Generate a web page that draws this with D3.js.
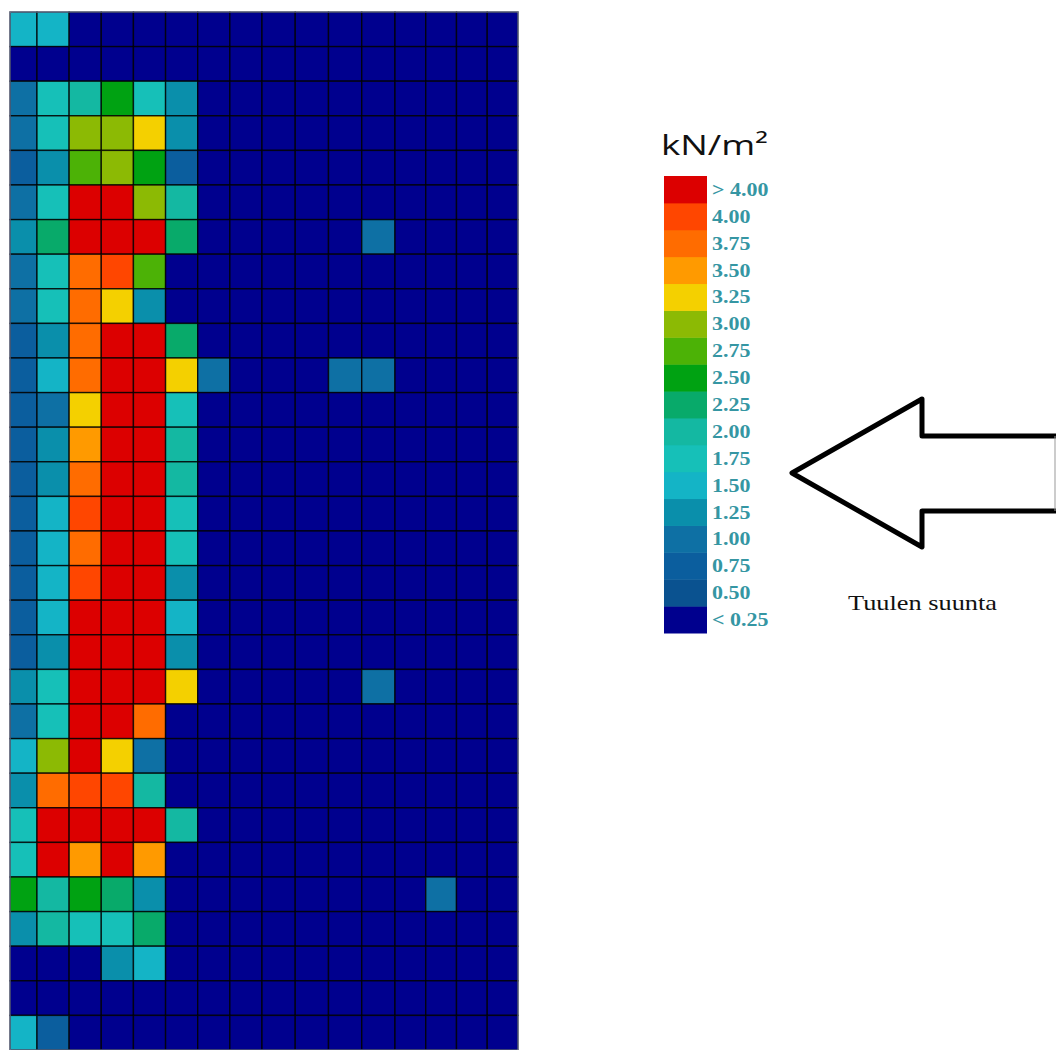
<!DOCTYPE html>
<html>
<head>
<meta charset="utf-8">
<script src="https://cdn.jsdelivr.net/npm/d3@7"></script>
<style>
  body { margin: 0; background: #fff; }
  svg { display: block; }
</style>
</head>
<body>
<svg id="chart" width="1057" height="1050"></svg>
<script>
// class limits (kN/m2) and the colour of each class, low to high
var thresholds = [0.25, 0.5, 0.75, 1.0, 1.25, 1.5, 1.75, 2.0, 2.25, 2.5, 2.75, 3.0, 3.25, 3.5, 3.75, 4.0];
var levelColors = ["#00008e", "#0a5290", "#0b5e9e", "#0e70a4", "#0a8fab", "#14b4c6", "#16c0b8", "#14b8a2",
                   "#08aa6a", "#00a212", "#4cb206", "#8cba04", "#f4d000", "#ff9a00", "#ff6c00", "#ff4600", "#dc0000"];
var legendLabels = ["< 0.25", "0.50", "0.75", "1.00", "1.25", "1.50", "1.75", "2.00", "2.25",
                    "2.50", "2.75", "3.00", "3.25", "3.50", "3.75", "4.00", "> 4.00"];

// wind pressure per panel, 30 rows (top to bottom) x 16 columns (left to right)
var pressure = [
  [1.4, 1.3, 0, 0, 0, 0, 0, 0, 0, 0, 0, 0, 0, 0, 0, 0],
  [0, 0, 0, 0, 0, 0, 0, 0, 0, 0, 0, 0, 0, 0, 0, 0],
  [0.9, 1.6, 1.9, 2.4, 1.6, 1.1, 0, 0, 0, 0, 0, 0, 0, 0, 0, 0],
  [0.9, 1.6, 2.9, 2.8, 3.1, 1.1, 0, 0, 0, 0, 0, 0, 0, 0, 0, 0],
  [0.7, 1.2, 2.6, 2.8, 2.4, 0.6, 0, 0, 0, 0, 0, 0, 0, 0, 0, 0],
  [0.9, 1.6, 4.4, 4.3, 2.8, 1.9, 0, 0, 0, 0, 0, 0, 0, 0, 0, 0],
  [1.1, 2.1, 4.6, 4.8, 4.2, 2.1, 0, 0, 0, 0, 0, 0.9, 0, 0, 0, 0],
  [0.9, 1.6, 3.6, 3.9, 2.6, 0, 0, 0, 0, 0, 0, 0, 0, 0, 0, 0],
  [0.9, 1.6, 3.6, 3.2, 1.2, 0, 0, 0, 0, 0, 0, 0, 0, 0, 0, 0],
  [0.7, 1.1, 3.7, 4.5, 4.6, 2.1, 0, 0, 0, 0, 0, 0, 0, 0, 0, 0],
  [0.7, 1.4, 3.6, 4.8, 4.7, 3.1, 0.9, 0, 0, 0, 0.8, 0.9, 0, 0, 0, 0],
  [0.7, 0.9, 3.2, 5.0, 4.9, 1.6, 0, 0, 0, 0, 0, 0, 0, 0, 0, 0],
  [0.6, 1.1, 3.4, 5.1, 4.8, 1.8, 0, 0, 0, 0, 0, 0, 0, 0, 0, 0],
  [0.6, 1.1, 3.6, 5.2, 4.9, 1.8, 0, 0, 0, 0, 0, 0, 0, 0, 0, 0],
  [0.6, 1.4, 3.9, 5.3, 5.0, 1.5, 0, 0, 0, 0, 0, 0, 0, 0, 0, 0],
  [0.6, 1.3, 3.7, 5.3, 5.0, 1.5, 0, 0, 0, 0, 0, 0, 0, 0, 0, 0],
  [0.6, 1.3, 3.9, 5.2, 4.9, 1.2, 0, 0, 0, 0, 0, 0, 0, 0, 0, 0],
  [0.6, 1.3, 4.2, 5.2, 4.8, 1.3, 0, 0, 0, 0, 0, 0, 0, 0, 0, 0],
  [0.6, 1.2, 4.3, 5.1, 4.6, 1.1, 0, 0, 0, 0, 0, 0, 0, 0, 0, 0],
  [1.1, 1.7, 4.4, 5.0, 4.5, 3.2, 0, 0, 0, 0, 0, 0.9, 0, 0, 0, 0],
  [0.9, 1.7, 4.4, 4.6, 3.6, 0, 0, 0, 0, 0, 0, 0, 0, 0, 0, 0],
  [1.4, 2.9, 4.1, 3.2, 0.9, 0, 0, 0, 0, 0, 0, 0, 0, 0, 0, 0],
  [1.2, 3.7, 3.9, 3.8, 1.9, 0, 0, 0, 0, 0, 0, 0, 0, 0, 0, 0],
  [1.6, 4.3, 4.6, 4.5, 4.1, 1.8, 0, 0, 0, 0, 0, 0, 0, 0, 0, 0],
  [1.6, 4.2, 3.4, 4.1, 3.4, 0, 0, 0, 0, 0, 0, 0, 0, 0, 0, 0],
  [2.4, 1.9, 2.4, 2.2, 1.2, 0, 0, 0, 0, 0, 0, 0, 0, 0.9, 0, 0],
  [1.1, 1.8, 1.6, 1.5, 2.2, 0, 0, 0, 0, 0, 0, 0, 0, 0, 0, 0],
  [0, 0, 0, 1.2, 1.4, 0, 0, 0, 0, 0, 0, 0, 0, 0, 0, 0],
  [0, 0, 0, 0, 0, 0, 0, 0, 0, 0, 0, 0, 0, 0, 0, 0],
  [1.4, 0.7, 0, 0, 0, 0, 0, 0, 0, 0, 0, 0, 0, 0, 0, 0]
];

var svg = d3.select("#chart");

var nRows = pressure.length;
var nCols = pressure[0].length;

// the picture is a resampled screenshot, so the columns are a little uneven
var x = d3.scaleLinear()
    .domain([0, 1, 8, 12, nCols])
    .range([10, 37, 262, 395, 518]);
var y = d3.scaleLinear()
    .domain([0, nRows])
    .range([12, 1050]);
var color = d3.scaleThreshold()
    .domain(thresholds)
    .range(levelColors);

var cells = [];
pressure.forEach(function(row, r) {
    row.forEach(function(v, c) { cells.push({ r: r, c: c, v: v }); });
});

//panel grid
var grid = svg.append("g").attr("class", "grid");
grid.selectAll("rect")
    .data(cells)
    .enter()
    .append("rect")
    .attr("x", function(d) { return x(d.c); })
    .attr("y", function(d) { return y(d.r); })
    .attr("width", function(d) { return x(d.c + 1) - x(d.c); })
    .attr("height", function(d) { return y(d.r + 1) - y(d.r); })
    .attr("fill", function(d) { return color(d.v); })
    .attr("stroke", "#000")
    .attr("stroke-opacity", 0.8)
    .attr("stroke-width", 1.4);

grid.append("rect")
    .attr("x", x(0))
    .attr("y", y(0))
    .attr("width", x(nCols) - x(0))
    .attr("height", y(nRows) - y(0))
    .attr("fill", "none")
    .attr("stroke", "#7a84a8")
    .attr("stroke-width", 1);

//legend
var legend = svg.append("g").attr("class", "legend");
var ly = d3.scaleBand()
    .domain(d3.range(legendLabels.length - 1, -1, -1))
    .range([176, 633]);

legend.selectAll("rect")
    .data(d3.range(legendLabels.length))
    .enter()
    .append("rect")
    .attr("x", 664)
    .attr("y", function(i) { return ly(i); })
    .attr("width", 43)
    .attr("height", ly.bandwidth() + 0.5)
    .attr("fill", function(i) { return levelColors[i]; });

legend.selectAll("text")
    .data(d3.range(legendLabels.length))
    .enter()
    .append("text")
    .attr("transform", function(i) { return "translate(712," + (ly(i) + ly.bandwidth() / 2) + ") scale(1.22,1)"; })
    .attr("dy", "0.36em")
    .style("font-family", "'Liberation Serif', 'DejaVu Serif', serif")
    .style("font-weight", "bold")
    .style("font-size", "18px")
    .style("fill", "#3596a3")
    .text(function(i) { return legendLabels[i]; });

svg.append("text")
    .attr("x", 661)
    .attr("y", 155)
    .attr("textLength", 107)
    .attr("lengthAdjust", "spacingAndGlyphs")
    .style("font-family", "'Open Sans', 'Noto Sans', sans-serif")
    .style("font-size", "28px")
    .style("fill", "#111")
    .text("kN/m²");

//wind direction arrow
var arrow = { tipX: 792, tipY: 473, headX: 922, headHalf: 74, shaftHalf: 37, endX: 1056 };
var arrowPts = [
    [arrow.endX, arrow.tipY - arrow.shaftHalf],
    [arrow.headX, arrow.tipY - arrow.shaftHalf],
    [arrow.headX, arrow.tipY - arrow.headHalf],
    [arrow.tipX, arrow.tipY],
    [arrow.headX, arrow.tipY + arrow.headHalf],
    [arrow.headX, arrow.tipY + arrow.shaftHalf + 1],
    [arrow.endX, arrow.tipY + arrow.shaftHalf + 1]
];
svg.append("path")
    .attr("d", d3.line()(arrowPts))
    .attr("fill", "none")
    .attr("stroke", "#000")
    .attr("stroke-width", 5)
    .attr("stroke-linejoin", "round");
svg.append("line")
    .attr("x1", arrow.endX - 1).attr("x2", arrow.endX - 1)
    .attr("y1", arrow.tipY - arrow.shaftHalf).attr("y2", arrow.tipY + arrow.shaftHalf + 1)
    .attr("stroke", "#999")
    .attr("stroke-width", 1);

svg.append("text")
    .attr("x", 848)
    .attr("y", 610)
    .attr("textLength", 149)
    .attr("lengthAdjust", "spacingAndGlyphs")
    .style("font-family", "'Liberation Serif', 'DejaVu Serif', serif")
    .style("font-size", "21px")
    .style("fill", "#111")
    .text("Tuulen suunta");
</script>
</body>
</html>
